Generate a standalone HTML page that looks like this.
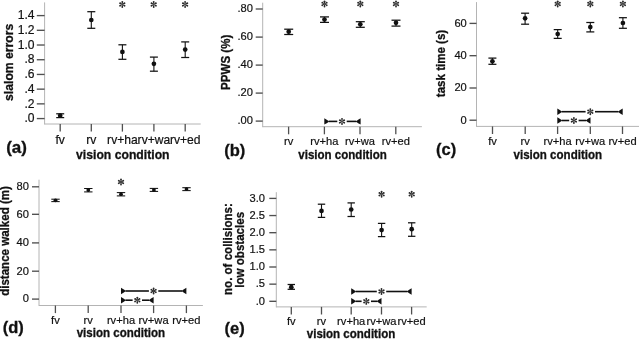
<!DOCTYPE html>
<html><head><meta charset="utf-8"><title>figure</title>
<style>
html,body{margin:0;padding:0;background:#fff;}
body{width:639px;height:339px;overflow:hidden;}
svg{display:block;font-family:"Liberation Sans",sans-serif;filter:grayscale(1);}
</style></head>
<body>
<svg width="639" height="339" viewBox="0 0 639 339">
<rect width="639" height="339" fill="#fff"/>
<line x1="44.60" y1="2.40" x2="44.60" y2="124.50" stroke="#b4b4b4" stroke-width="1.0"/>
<line x1="44.60" y1="124.00" x2="200.70" y2="124.00" stroke="#b4b4b4" stroke-width="1.0"/>
<line x1="36.80" y1="15.60" x2="44.60" y2="15.60" stroke="#505050" stroke-width="1.35"/>
<text transform="translate(34.60 19.23)" font-size="12.10" text-anchor="end" font-weight="normal" fill="#111" stroke="#111" stroke-width="0.2">1.4</text>
<line x1="36.80" y1="30.31" x2="44.60" y2="30.31" stroke="#505050" stroke-width="1.35"/>
<text transform="translate(34.60 33.95)" font-size="12.10" text-anchor="end" font-weight="normal" fill="#111" stroke="#111" stroke-width="0.2">1.2</text>
<line x1="36.80" y1="45.02" x2="44.60" y2="45.02" stroke="#505050" stroke-width="1.35"/>
<text transform="translate(34.60 48.66)" font-size="12.10" text-anchor="end" font-weight="normal" fill="#111" stroke="#111" stroke-width="0.2">1.0</text>
<line x1="36.80" y1="59.73" x2="44.60" y2="59.73" stroke="#505050" stroke-width="1.35"/>
<text transform="translate(34.60 63.37)" font-size="12.10" text-anchor="end" font-weight="normal" fill="#111" stroke="#111" stroke-width="0.2">.8</text>
<line x1="36.80" y1="74.44" x2="44.60" y2="74.44" stroke="#505050" stroke-width="1.35"/>
<text transform="translate(34.60 78.08)" font-size="12.10" text-anchor="end" font-weight="normal" fill="#111" stroke="#111" stroke-width="0.2">.6</text>
<line x1="36.80" y1="89.15" x2="44.60" y2="89.15" stroke="#505050" stroke-width="1.35"/>
<text transform="translate(34.60 92.79)" font-size="12.10" text-anchor="end" font-weight="normal" fill="#111" stroke="#111" stroke-width="0.2">.4</text>
<line x1="36.80" y1="103.86" x2="44.60" y2="103.86" stroke="#505050" stroke-width="1.35"/>
<text transform="translate(34.60 107.50)" font-size="12.10" text-anchor="end" font-weight="normal" fill="#111" stroke="#111" stroke-width="0.2">.2</text>
<line x1="36.80" y1="118.57" x2="44.60" y2="118.57" stroke="#505050" stroke-width="1.35"/>
<text transform="translate(34.60 122.20)" font-size="12.10" text-anchor="end" font-weight="normal" fill="#111" stroke="#111" stroke-width="0.2">.0</text>
<line x1="60.20" y1="124.00" x2="60.20" y2="131.60" stroke="#505050" stroke-width="1.3"/>
<text transform="translate(60.20 143.80)" font-size="12.10" text-anchor="middle" font-weight="normal" fill="#111" stroke="#111" stroke-width="0.2">fv</text>
<line x1="91.30" y1="124.00" x2="91.30" y2="131.60" stroke="#505050" stroke-width="1.3"/>
<text transform="translate(91.30 143.80)" font-size="12.10" text-anchor="middle" font-weight="normal" fill="#111" stroke="#111" stroke-width="0.2">rv</text>
<line x1="122.40" y1="124.00" x2="122.40" y2="131.60" stroke="#505050" stroke-width="1.3"/>
<text transform="translate(122.40 143.80)" font-size="12.10" text-anchor="middle" font-weight="normal" fill="#111" stroke="#111" stroke-width="0.2">rv+ha</text>
<line x1="153.90" y1="124.00" x2="153.90" y2="131.60" stroke="#505050" stroke-width="1.3"/>
<text transform="translate(153.90 143.80)" font-size="12.10" text-anchor="middle" font-weight="normal" fill="#111" stroke="#111" stroke-width="0.2">rv+wa</text>
<line x1="185.20" y1="124.00" x2="185.20" y2="131.60" stroke="#505050" stroke-width="1.3"/>
<text transform="translate(185.20 143.80)" font-size="12.10" text-anchor="middle" font-weight="normal" fill="#111" stroke="#111" stroke-width="0.2">rv+ed</text>
<text transform="translate(122.80 158.90) scale(0.9346 1)" font-size="13.05" text-anchor="middle" font-weight="bold" fill="#111" stroke="#111" stroke-width="0.3">vision condition</text>
<text transform="translate(12.60 62.30) rotate(-90) scale(0.9346 1)" font-size="13.05" text-anchor="middle" font-weight="bold" fill="#111" stroke="#111" stroke-width="0.3">slalom errors</text>
<text transform="translate(6.20 152.70)" font-size="17.00" text-anchor="start" font-weight="bold" fill="#111" stroke="#111" stroke-width="0.3">(a)</text>
<line x1="60.20" y1="113.80" x2="60.20" y2="117.60" stroke="#111" stroke-width="1.1"/>
<line x1="56.20" y1="113.80" x2="64.20" y2="113.80" stroke="#111" stroke-width="1.25"/>
<line x1="56.20" y1="117.60" x2="64.20" y2="117.60" stroke="#111" stroke-width="1.25"/>
<circle cx="60.20" cy="115.70" r="2.35" fill="#111"/>
<line x1="91.30" y1="11.70" x2="91.30" y2="28.30" stroke="#111" stroke-width="1.1"/>
<line x1="87.30" y1="11.70" x2="95.30" y2="11.70" stroke="#111" stroke-width="1.25"/>
<line x1="87.30" y1="28.30" x2="95.30" y2="28.30" stroke="#111" stroke-width="1.25"/>
<circle cx="91.30" cy="20.00" r="2.35" fill="#111"/>
<line x1="122.40" y1="44.80" x2="122.40" y2="59.30" stroke="#111" stroke-width="1.1"/>
<line x1="118.40" y1="44.80" x2="126.40" y2="44.80" stroke="#111" stroke-width="1.25"/>
<line x1="118.40" y1="59.30" x2="126.40" y2="59.30" stroke="#111" stroke-width="1.25"/>
<circle cx="122.40" cy="51.90" r="2.35" fill="#111"/>
<line x1="153.90" y1="57.10" x2="153.90" y2="71.20" stroke="#111" stroke-width="1.1"/>
<line x1="149.90" y1="57.10" x2="157.90" y2="57.10" stroke="#111" stroke-width="1.25"/>
<line x1="149.90" y1="71.20" x2="157.90" y2="71.20" stroke="#111" stroke-width="1.25"/>
<circle cx="153.90" cy="63.80" r="2.35" fill="#111"/>
<line x1="185.20" y1="41.90" x2="185.20" y2="57.50" stroke="#111" stroke-width="1.1"/>
<line x1="181.20" y1="41.90" x2="189.20" y2="41.90" stroke="#111" stroke-width="1.25"/>
<line x1="181.20" y1="57.50" x2="189.20" y2="57.50" stroke="#111" stroke-width="1.25"/>
<circle cx="185.20" cy="49.60" r="2.35" fill="#111"/>
<path d="M122.10 4.45 L121.40 1.85 A0.9 0.9 0 0 1 123.20 1.85 L122.50 4.45 Z" fill="#2a2a2a"/>
<path d="M122.20 4.28 L124.10 2.37 A0.9 0.9 0 0 1 125.00 3.93 L122.40 4.62 Z" fill="#2a2a2a"/>
<path d="M122.40 4.28 L125.00 4.97 A0.9 0.9 0 0 1 124.10 6.53 L122.20 4.62 Z" fill="#2a2a2a"/>
<path d="M122.20 4.62 L119.60 3.93 A0.9 0.9 0 0 1 120.50 2.37 L122.40 4.28 Z" fill="#2a2a2a"/>
<path d="M122.40 4.62 L120.50 6.53 A0.9 0.9 0 0 1 119.60 4.97 L122.20 4.28 Z" fill="#2a2a2a"/>
<path d="M122.50 4.45 L123.20 7.05 A0.9 0.9 0 0 1 121.40 7.05 L122.10 4.45 Z" fill="#2a2a2a"/>
<path d="M153.50 4.45 L152.80 1.85 A0.9 0.9 0 0 1 154.60 1.85 L153.90 4.45 Z" fill="#2a2a2a"/>
<path d="M153.60 4.28 L155.50 2.37 A0.9 0.9 0 0 1 156.40 3.93 L153.80 4.62 Z" fill="#2a2a2a"/>
<path d="M153.80 4.28 L156.40 4.97 A0.9 0.9 0 0 1 155.50 6.53 L153.60 4.62 Z" fill="#2a2a2a"/>
<path d="M153.60 4.62 L151.00 3.93 A0.9 0.9 0 0 1 151.90 2.37 L153.80 4.28 Z" fill="#2a2a2a"/>
<path d="M153.80 4.62 L151.90 6.53 A0.9 0.9 0 0 1 151.00 4.97 L153.60 4.28 Z" fill="#2a2a2a"/>
<path d="M153.90 4.45 L154.60 7.05 A0.9 0.9 0 0 1 152.80 7.05 L153.50 4.45 Z" fill="#2a2a2a"/>
<path d="M184.90 4.45 L184.20 1.85 A0.9 0.9 0 0 1 186.00 1.85 L185.30 4.45 Z" fill="#2a2a2a"/>
<path d="M185.00 4.28 L186.90 2.37 A0.9 0.9 0 0 1 187.80 3.93 L185.20 4.62 Z" fill="#2a2a2a"/>
<path d="M185.20 4.28 L187.80 4.97 A0.9 0.9 0 0 1 186.90 6.53 L185.00 4.62 Z" fill="#2a2a2a"/>
<path d="M185.00 4.62 L182.40 3.93 A0.9 0.9 0 0 1 183.30 2.37 L185.20 4.28 Z" fill="#2a2a2a"/>
<path d="M185.20 4.62 L183.30 6.53 A0.9 0.9 0 0 1 182.40 4.97 L185.00 4.28 Z" fill="#2a2a2a"/>
<path d="M185.30 4.45 L186.00 7.05 A0.9 0.9 0 0 1 184.20 7.05 L184.90 4.45 Z" fill="#2a2a2a"/>
<line x1="262.70" y1="2.70" x2="262.70" y2="127.20" stroke="#b4b4b4" stroke-width="1.0"/>
<line x1="262.70" y1="126.70" x2="421.90" y2="126.70" stroke="#b4b4b4" stroke-width="1.0"/>
<line x1="255.70" y1="9.00" x2="262.70" y2="9.00" stroke="#505050" stroke-width="1.35"/>
<text transform="translate(253.00 12.30) scale(0.9699 1)" font-size="11.50" text-anchor="end" font-weight="normal" fill="#111" stroke="#111" stroke-width="0.2">.80</text>
<line x1="255.70" y1="37.10" x2="262.70" y2="37.10" stroke="#505050" stroke-width="1.35"/>
<text transform="translate(253.00 40.40) scale(0.9699 1)" font-size="11.50" text-anchor="end" font-weight="normal" fill="#111" stroke="#111" stroke-width="0.2">.60</text>
<line x1="255.70" y1="65.10" x2="262.70" y2="65.10" stroke="#505050" stroke-width="1.35"/>
<text transform="translate(253.00 68.40) scale(0.9699 1)" font-size="11.50" text-anchor="end" font-weight="normal" fill="#111" stroke="#111" stroke-width="0.2">.40</text>
<line x1="255.70" y1="93.10" x2="262.70" y2="93.10" stroke="#505050" stroke-width="1.35"/>
<text transform="translate(253.00 96.40) scale(0.9699 1)" font-size="11.50" text-anchor="end" font-weight="normal" fill="#111" stroke="#111" stroke-width="0.2">.20</text>
<line x1="255.70" y1="121.10" x2="262.70" y2="121.10" stroke="#505050" stroke-width="1.35"/>
<text transform="translate(253.00 124.40) scale(0.9699 1)" font-size="11.50" text-anchor="end" font-weight="normal" fill="#111" stroke="#111" stroke-width="0.2">.00</text>
<line x1="288.60" y1="126.70" x2="288.60" y2="134.30" stroke="#505050" stroke-width="1.3"/>
<text transform="translate(288.60 145.30) scale(0.9699 1)" font-size="11.50" text-anchor="middle" font-weight="normal" fill="#111" stroke="#111" stroke-width="0.2">rv</text>
<line x1="324.40" y1="126.70" x2="324.40" y2="134.30" stroke="#505050" stroke-width="1.3"/>
<text transform="translate(324.40 145.30) scale(0.9699 1)" font-size="11.50" text-anchor="middle" font-weight="normal" fill="#111" stroke="#111" stroke-width="0.2">rv+ha</text>
<line x1="360.00" y1="126.70" x2="360.00" y2="134.30" stroke="#505050" stroke-width="1.3"/>
<text transform="translate(360.00 145.30) scale(0.9699 1)" font-size="11.50" text-anchor="middle" font-weight="normal" fill="#111" stroke="#111" stroke-width="0.2">rv+wa</text>
<line x1="395.80" y1="126.70" x2="395.80" y2="134.30" stroke="#505050" stroke-width="1.3"/>
<text transform="translate(395.80 145.30) scale(0.9699 1)" font-size="11.50" text-anchor="middle" font-weight="normal" fill="#111" stroke="#111" stroke-width="0.2">rv+ed</text>
<text transform="translate(342.50 158.60) scale(0.9346 1)" font-size="12.36" text-anchor="middle" font-weight="bold" fill="#111" stroke="#111" stroke-width="0.3">vision condition</text>
<text transform="translate(229.70 62.30) rotate(-90) scale(0.9346 1)" font-size="12.36" text-anchor="middle" font-weight="bold" fill="#111" stroke="#111" stroke-width="0.3">PPWS (%)</text>
<text transform="translate(224.20 155.50)" font-size="16.50" text-anchor="start" font-weight="bold" fill="#111" stroke="#111" stroke-width="0.3">(b)</text>
<line x1="288.70" y1="29.20" x2="288.70" y2="34.50" stroke="#111" stroke-width="1.1"/>
<line x1="284.20" y1="29.20" x2="293.20" y2="29.20" stroke="#111" stroke-width="1.25"/>
<line x1="284.20" y1="34.50" x2="293.20" y2="34.50" stroke="#111" stroke-width="1.25"/>
<circle cx="288.70" cy="31.70" r="2.35" fill="#111"/>
<line x1="324.50" y1="16.90" x2="324.50" y2="22.40" stroke="#111" stroke-width="1.1"/>
<line x1="320.00" y1="16.90" x2="329.00" y2="16.90" stroke="#111" stroke-width="1.25"/>
<line x1="320.00" y1="22.40" x2="329.00" y2="22.40" stroke="#111" stroke-width="1.25"/>
<circle cx="324.50" cy="19.60" r="2.35" fill="#111"/>
<line x1="360.30" y1="21.70" x2="360.30" y2="27.30" stroke="#111" stroke-width="1.1"/>
<line x1="355.80" y1="21.70" x2="364.80" y2="21.70" stroke="#111" stroke-width="1.25"/>
<line x1="355.80" y1="27.30" x2="364.80" y2="27.30" stroke="#111" stroke-width="1.25"/>
<circle cx="360.30" cy="24.30" r="2.35" fill="#111"/>
<line x1="396.00" y1="20.20" x2="396.00" y2="26.10" stroke="#111" stroke-width="1.1"/>
<line x1="391.50" y1="20.20" x2="400.50" y2="20.20" stroke="#111" stroke-width="1.25"/>
<line x1="391.50" y1="26.10" x2="400.50" y2="26.10" stroke="#111" stroke-width="1.25"/>
<circle cx="396.00" cy="22.80" r="2.35" fill="#111"/>
<path d="M324.30 3.90 L323.60 1.30 A0.9 0.9 0 0 1 325.40 1.30 L324.70 3.90 Z" fill="#2a2a2a"/>
<path d="M324.40 3.73 L326.30 1.82 A0.9 0.9 0 0 1 327.20 3.38 L324.60 4.07 Z" fill="#2a2a2a"/>
<path d="M324.60 3.73 L327.20 4.42 A0.9 0.9 0 0 1 326.30 5.98 L324.40 4.07 Z" fill="#2a2a2a"/>
<path d="M324.40 4.07 L321.80 3.38 A0.9 0.9 0 0 1 322.70 1.82 L324.60 3.73 Z" fill="#2a2a2a"/>
<path d="M324.60 4.07 L322.70 5.98 A0.9 0.9 0 0 1 321.80 4.42 L324.40 3.73 Z" fill="#2a2a2a"/>
<path d="M324.70 3.90 L325.40 6.50 A0.9 0.9 0 0 1 323.60 6.50 L324.30 3.90 Z" fill="#2a2a2a"/>
<path d="M360.10 3.90 L359.40 1.30 A0.9 0.9 0 0 1 361.20 1.30 L360.50 3.90 Z" fill="#2a2a2a"/>
<path d="M360.20 3.73 L362.10 1.82 A0.9 0.9 0 0 1 363.00 3.38 L360.40 4.07 Z" fill="#2a2a2a"/>
<path d="M360.40 3.73 L363.00 4.42 A0.9 0.9 0 0 1 362.10 5.98 L360.20 4.07 Z" fill="#2a2a2a"/>
<path d="M360.20 4.07 L357.60 3.38 A0.9 0.9 0 0 1 358.50 1.82 L360.40 3.73 Z" fill="#2a2a2a"/>
<path d="M360.40 4.07 L358.50 5.98 A0.9 0.9 0 0 1 357.60 4.42 L360.20 3.73 Z" fill="#2a2a2a"/>
<path d="M360.50 3.90 L361.20 6.50 A0.9 0.9 0 0 1 359.40 6.50 L360.10 3.90 Z" fill="#2a2a2a"/>
<path d="M395.80 3.90 L395.10 1.30 A0.9 0.9 0 0 1 396.90 1.30 L396.20 3.90 Z" fill="#2a2a2a"/>
<path d="M395.90 3.73 L397.80 1.82 A0.9 0.9 0 0 1 398.70 3.38 L396.10 4.07 Z" fill="#2a2a2a"/>
<path d="M396.10 3.73 L398.70 4.42 A0.9 0.9 0 0 1 397.80 5.98 L395.90 4.07 Z" fill="#2a2a2a"/>
<path d="M395.90 4.07 L393.30 3.38 A0.9 0.9 0 0 1 394.20 1.82 L396.10 3.73 Z" fill="#2a2a2a"/>
<path d="M396.10 4.07 L394.20 5.98 A0.9 0.9 0 0 1 393.30 4.42 L395.90 3.73 Z" fill="#2a2a2a"/>
<path d="M396.20 3.90 L396.90 6.50 A0.9 0.9 0 0 1 395.10 6.50 L395.80 3.90 Z" fill="#2a2a2a"/>
<line x1="328.70" y1="121.40" x2="337.30" y2="121.40" stroke="#111" stroke-width="1.6"/>
<line x1="346.70" y1="121.40" x2="356.20" y2="121.40" stroke="#111" stroke-width="1.6"/>
<path d="M324.30 118.20 Q326.75 119.48 329.20 121.40 Q326.75 123.32 324.30 124.60 Z" fill="#111"/>
<path d="M360.60 118.20 Q358.15 119.48 355.70 121.40 Q358.15 123.32 360.60 124.60 Z" fill="#111"/>
<path d="M341.80 121.40 L341.10 118.80 A0.9 0.9 0 0 1 342.90 118.80 L342.20 121.40 Z" fill="#2a2a2a"/>
<path d="M341.90 121.23 L343.80 119.32 A0.9 0.9 0 0 1 344.70 120.88 L342.10 121.57 Z" fill="#2a2a2a"/>
<path d="M342.10 121.23 L344.70 121.92 A0.9 0.9 0 0 1 343.80 123.48 L341.90 121.57 Z" fill="#2a2a2a"/>
<path d="M341.90 121.57 L339.30 120.88 A0.9 0.9 0 0 1 340.20 119.32 L342.10 121.23 Z" fill="#2a2a2a"/>
<path d="M342.10 121.57 L340.20 123.48 A0.9 0.9 0 0 1 339.30 121.92 L341.90 121.23 Z" fill="#2a2a2a"/>
<path d="M342.20 121.40 L342.90 124.00 A0.9 0.9 0 0 1 341.10 124.00 L341.80 121.40 Z" fill="#2a2a2a"/>
<line x1="476.50" y1="2.10" x2="476.50" y2="126.90" stroke="#b4b4b4" stroke-width="1.0"/>
<line x1="476.50" y1="126.40" x2="639.50" y2="126.40" stroke="#b4b4b4" stroke-width="1.0"/>
<line x1="469.50" y1="23.40" x2="476.50" y2="23.40" stroke="#505050" stroke-width="1.35"/>
<text transform="translate(466.80 26.70) scale(0.9699 1)" font-size="11.50" text-anchor="end" font-weight="normal" fill="#111" stroke="#111" stroke-width="0.2">60</text>
<line x1="469.50" y1="55.70" x2="476.50" y2="55.70" stroke="#505050" stroke-width="1.35"/>
<text transform="translate(466.80 59.00) scale(0.9699 1)" font-size="11.50" text-anchor="end" font-weight="normal" fill="#111" stroke="#111" stroke-width="0.2">40</text>
<line x1="469.50" y1="88.00" x2="476.50" y2="88.00" stroke="#505050" stroke-width="1.35"/>
<text transform="translate(466.80 91.30) scale(0.9699 1)" font-size="11.50" text-anchor="end" font-weight="normal" fill="#111" stroke="#111" stroke-width="0.2">20</text>
<line x1="469.50" y1="120.20" x2="476.50" y2="120.20" stroke="#505050" stroke-width="1.35"/>
<text transform="translate(466.80 123.50) scale(0.9699 1)" font-size="11.50" text-anchor="end" font-weight="normal" fill="#111" stroke="#111" stroke-width="0.2">0</text>
<line x1="492.50" y1="126.40" x2="492.50" y2="134.00" stroke="#505050" stroke-width="1.3"/>
<text transform="translate(492.50 145.10) scale(0.9699 1)" font-size="11.50" text-anchor="middle" font-weight="normal" fill="#111" stroke="#111" stroke-width="0.2">fv</text>
<line x1="525.20" y1="126.40" x2="525.20" y2="134.00" stroke="#505050" stroke-width="1.3"/>
<text transform="translate(525.20 145.10) scale(0.9699 1)" font-size="11.50" text-anchor="middle" font-weight="normal" fill="#111" stroke="#111" stroke-width="0.2">rv</text>
<line x1="557.60" y1="126.40" x2="557.60" y2="134.00" stroke="#505050" stroke-width="1.3"/>
<text transform="translate(557.60 145.10) scale(0.9699 1)" font-size="11.50" text-anchor="middle" font-weight="normal" fill="#111" stroke="#111" stroke-width="0.2">rv+ha</text>
<line x1="590.30" y1="126.40" x2="590.30" y2="134.00" stroke="#505050" stroke-width="1.3"/>
<text transform="translate(590.30 145.10) scale(0.9699 1)" font-size="11.50" text-anchor="middle" font-weight="normal" fill="#111" stroke="#111" stroke-width="0.2">rv+wa</text>
<line x1="622.50" y1="126.40" x2="622.50" y2="134.00" stroke="#505050" stroke-width="1.3"/>
<text transform="translate(622.50 145.10) scale(0.9699 1)" font-size="11.50" text-anchor="middle" font-weight="normal" fill="#111" stroke="#111" stroke-width="0.2">rv+ed</text>
<text transform="translate(557.80 158.90) scale(0.9346 1)" font-size="12.36" text-anchor="middle" font-weight="bold" fill="#111" stroke="#111" stroke-width="0.3">vision condition</text>
<text transform="translate(444.60 63.50) rotate(-90) scale(0.9346 1)" font-size="12.36" text-anchor="middle" font-weight="bold" fill="#111" stroke="#111" stroke-width="0.3">task time (s)</text>
<text transform="translate(436.00 155.00)" font-size="16.50" text-anchor="start" font-weight="bold" fill="#111" stroke="#111" stroke-width="0.3">(c)</text>
<line x1="492.40" y1="58.10" x2="492.40" y2="64.30" stroke="#111" stroke-width="1.1"/>
<line x1="488.40" y1="58.10" x2="496.40" y2="58.10" stroke="#111" stroke-width="1.25"/>
<line x1="488.40" y1="64.30" x2="496.40" y2="64.30" stroke="#111" stroke-width="1.25"/>
<circle cx="492.40" cy="61.30" r="2.35" fill="#111"/>
<line x1="525.10" y1="13.20" x2="525.10" y2="24.20" stroke="#111" stroke-width="1.1"/>
<line x1="521.10" y1="13.20" x2="529.10" y2="13.20" stroke="#111" stroke-width="1.25"/>
<line x1="521.10" y1="24.20" x2="529.10" y2="24.20" stroke="#111" stroke-width="1.25"/>
<circle cx="525.10" cy="18.30" r="2.35" fill="#111"/>
<line x1="557.70" y1="29.60" x2="557.70" y2="38.40" stroke="#111" stroke-width="1.1"/>
<line x1="553.70" y1="29.60" x2="561.70" y2="29.60" stroke="#111" stroke-width="1.25"/>
<line x1="553.70" y1="38.40" x2="561.70" y2="38.40" stroke="#111" stroke-width="1.25"/>
<circle cx="557.70" cy="34.00" r="2.35" fill="#111"/>
<line x1="590.30" y1="22.50" x2="590.30" y2="31.90" stroke="#111" stroke-width="1.1"/>
<line x1="586.30" y1="22.50" x2="594.30" y2="22.50" stroke="#111" stroke-width="1.25"/>
<line x1="586.30" y1="31.90" x2="594.30" y2="31.90" stroke="#111" stroke-width="1.25"/>
<circle cx="590.30" cy="27.10" r="2.35" fill="#111"/>
<line x1="622.90" y1="17.70" x2="622.90" y2="28.30" stroke="#111" stroke-width="1.1"/>
<line x1="618.90" y1="17.70" x2="626.90" y2="17.70" stroke="#111" stroke-width="1.25"/>
<line x1="618.90" y1="28.30" x2="626.90" y2="28.30" stroke="#111" stroke-width="1.25"/>
<circle cx="622.90" cy="23.00" r="2.35" fill="#111"/>
<path d="M557.50 3.90 L556.80 1.30 A0.9 0.9 0 0 1 558.60 1.30 L557.90 3.90 Z" fill="#2a2a2a"/>
<path d="M557.60 3.73 L559.50 1.82 A0.9 0.9 0 0 1 560.40 3.38 L557.80 4.07 Z" fill="#2a2a2a"/>
<path d="M557.80 3.73 L560.40 4.42 A0.9 0.9 0 0 1 559.50 5.98 L557.60 4.07 Z" fill="#2a2a2a"/>
<path d="M557.60 4.07 L555.00 3.38 A0.9 0.9 0 0 1 555.90 1.82 L557.80 3.73 Z" fill="#2a2a2a"/>
<path d="M557.80 4.07 L555.90 5.98 A0.9 0.9 0 0 1 555.00 4.42 L557.60 3.73 Z" fill="#2a2a2a"/>
<path d="M557.90 3.90 L558.60 6.50 A0.9 0.9 0 0 1 556.80 6.50 L557.50 3.90 Z" fill="#2a2a2a"/>
<path d="M590.10 3.90 L589.40 1.30 A0.9 0.9 0 0 1 591.20 1.30 L590.50 3.90 Z" fill="#2a2a2a"/>
<path d="M590.20 3.73 L592.10 1.82 A0.9 0.9 0 0 1 593.00 3.38 L590.40 4.07 Z" fill="#2a2a2a"/>
<path d="M590.40 3.73 L593.00 4.42 A0.9 0.9 0 0 1 592.10 5.98 L590.20 4.07 Z" fill="#2a2a2a"/>
<path d="M590.20 4.07 L587.60 3.38 A0.9 0.9 0 0 1 588.50 1.82 L590.40 3.73 Z" fill="#2a2a2a"/>
<path d="M590.40 4.07 L588.50 5.98 A0.9 0.9 0 0 1 587.60 4.42 L590.20 3.73 Z" fill="#2a2a2a"/>
<path d="M590.50 3.90 L591.20 6.50 A0.9 0.9 0 0 1 589.40 6.50 L590.10 3.90 Z" fill="#2a2a2a"/>
<path d="M622.70 3.90 L622.00 1.30 A0.9 0.9 0 0 1 623.80 1.30 L623.10 3.90 Z" fill="#2a2a2a"/>
<path d="M622.80 3.73 L624.70 1.82 A0.9 0.9 0 0 1 625.60 3.38 L623.00 4.07 Z" fill="#2a2a2a"/>
<path d="M623.00 3.73 L625.60 4.42 A0.9 0.9 0 0 1 624.70 5.98 L622.80 4.07 Z" fill="#2a2a2a"/>
<path d="M622.80 4.07 L620.20 3.38 A0.9 0.9 0 0 1 621.10 1.82 L623.00 3.73 Z" fill="#2a2a2a"/>
<path d="M623.00 4.07 L621.10 5.98 A0.9 0.9 0 0 1 620.20 4.42 L622.80 3.73 Z" fill="#2a2a2a"/>
<path d="M623.10 3.90 L623.80 6.50 A0.9 0.9 0 0 1 622.00 6.50 L622.70 3.90 Z" fill="#2a2a2a"/>
<line x1="561.70" y1="111.70" x2="585.60" y2="111.70" stroke="#111" stroke-width="1.6"/>
<line x1="595.00" y1="111.70" x2="618.30" y2="111.70" stroke="#111" stroke-width="1.6"/>
<path d="M557.30 108.50 Q559.75 109.78 562.20 111.70 Q559.75 113.62 557.30 114.90 Z" fill="#111"/>
<path d="M622.70 108.50 Q620.25 109.78 617.80 111.70 Q620.25 113.62 622.70 114.90 Z" fill="#111"/>
<path d="M590.10 111.70 L589.40 109.10 A0.9 0.9 0 0 1 591.20 109.10 L590.50 111.70 Z" fill="#2a2a2a"/>
<path d="M590.20 111.53 L592.10 109.62 A0.9 0.9 0 0 1 593.00 111.18 L590.40 111.87 Z" fill="#2a2a2a"/>
<path d="M590.40 111.53 L593.00 112.22 A0.9 0.9 0 0 1 592.10 113.78 L590.20 111.87 Z" fill="#2a2a2a"/>
<path d="M590.20 111.87 L587.60 111.18 A0.9 0.9 0 0 1 588.50 109.62 L590.40 111.53 Z" fill="#2a2a2a"/>
<path d="M590.40 111.87 L588.50 113.78 A0.9 0.9 0 0 1 587.60 112.22 L590.20 111.53 Z" fill="#2a2a2a"/>
<path d="M590.50 111.70 L591.20 114.30 A0.9 0.9 0 0 1 589.40 114.30 L590.10 111.70 Z" fill="#2a2a2a"/>
<line x1="561.70" y1="120.50" x2="569.20" y2="120.50" stroke="#111" stroke-width="1.6"/>
<line x1="578.60" y1="120.50" x2="586.10" y2="120.50" stroke="#111" stroke-width="1.6"/>
<path d="M557.30 117.30 Q559.75 118.58 562.20 120.50 Q559.75 122.42 557.30 123.70 Z" fill="#111"/>
<path d="M590.50 117.30 Q588.05 118.58 585.60 120.50 Q588.05 122.42 590.50 123.70 Z" fill="#111"/>
<path d="M573.70 120.50 L573.00 117.90 A0.9 0.9 0 0 1 574.80 117.90 L574.10 120.50 Z" fill="#2a2a2a"/>
<path d="M573.80 120.33 L575.70 118.42 A0.9 0.9 0 0 1 576.60 119.98 L574.00 120.67 Z" fill="#2a2a2a"/>
<path d="M574.00 120.33 L576.60 121.02 A0.9 0.9 0 0 1 575.70 122.58 L573.80 120.67 Z" fill="#2a2a2a"/>
<path d="M573.80 120.67 L571.20 119.98 A0.9 0.9 0 0 1 572.10 118.42 L574.00 120.33 Z" fill="#2a2a2a"/>
<path d="M574.00 120.67 L572.10 122.58 A0.9 0.9 0 0 1 571.20 121.02 L573.80 120.33 Z" fill="#2a2a2a"/>
<path d="M574.10 120.50 L574.80 123.10 A0.9 0.9 0 0 1 573.00 123.10 L573.70 120.50 Z" fill="#2a2a2a"/>
<line x1="39.00" y1="179.70" x2="39.00" y2="306.00" stroke="#b4b4b4" stroke-width="1.0"/>
<line x1="39.00" y1="305.50" x2="202.90" y2="305.50" stroke="#b4b4b4" stroke-width="1.0"/>
<line x1="32.00" y1="186.80" x2="39.00" y2="186.80" stroke="#505050" stroke-width="1.35"/>
<text transform="translate(29.00 190.10) scale(0.9699 1)" font-size="11.50" text-anchor="end" font-weight="normal" fill="#111" stroke="#111" stroke-width="0.2">80</text>
<line x1="32.00" y1="214.30" x2="39.00" y2="214.30" stroke="#505050" stroke-width="1.35"/>
<text transform="translate(29.00 217.60) scale(0.9699 1)" font-size="11.50" text-anchor="end" font-weight="normal" fill="#111" stroke="#111" stroke-width="0.2">60</text>
<line x1="32.00" y1="242.90" x2="39.00" y2="242.90" stroke="#505050" stroke-width="1.35"/>
<text transform="translate(29.00 246.20) scale(0.9699 1)" font-size="11.50" text-anchor="end" font-weight="normal" fill="#111" stroke="#111" stroke-width="0.2">40</text>
<line x1="32.00" y1="271.20" x2="39.00" y2="271.20" stroke="#505050" stroke-width="1.35"/>
<text transform="translate(29.00 274.50) scale(0.9699 1)" font-size="11.50" text-anchor="end" font-weight="normal" fill="#111" stroke="#111" stroke-width="0.2">20</text>
<line x1="32.00" y1="299.10" x2="39.00" y2="299.10" stroke="#505050" stroke-width="1.35"/>
<text transform="translate(29.00 302.40) scale(0.9699 1)" font-size="11.50" text-anchor="end" font-weight="normal" fill="#111" stroke="#111" stroke-width="0.2">0</text>
<line x1="55.40" y1="305.50" x2="55.40" y2="313.10" stroke="#505050" stroke-width="1.3"/>
<text transform="translate(55.40 323.70) scale(0.9699 1)" font-size="11.50" text-anchor="middle" font-weight="normal" fill="#111" stroke="#111" stroke-width="0.2">fv</text>
<line x1="88.20" y1="305.50" x2="88.20" y2="313.10" stroke="#505050" stroke-width="1.3"/>
<text transform="translate(88.20 323.70) scale(0.9699 1)" font-size="11.50" text-anchor="middle" font-weight="normal" fill="#111" stroke="#111" stroke-width="0.2">rv</text>
<line x1="121.00" y1="305.50" x2="121.00" y2="313.10" stroke="#505050" stroke-width="1.3"/>
<text transform="translate(121.00 323.70) scale(0.9699 1)" font-size="11.50" text-anchor="middle" font-weight="normal" fill="#111" stroke="#111" stroke-width="0.2">rv+ha</text>
<line x1="153.60" y1="305.50" x2="153.60" y2="313.10" stroke="#505050" stroke-width="1.3"/>
<text transform="translate(153.60 323.70) scale(0.9699 1)" font-size="11.50" text-anchor="middle" font-weight="normal" fill="#111" stroke="#111" stroke-width="0.2">rv+wa</text>
<line x1="186.40" y1="305.50" x2="186.40" y2="313.10" stroke="#505050" stroke-width="1.3"/>
<text transform="translate(186.40 323.70) scale(0.9699 1)" font-size="11.50" text-anchor="middle" font-weight="normal" fill="#111" stroke="#111" stroke-width="0.2">rv+ed</text>
<text transform="translate(120.90 337.30) scale(0.9346 1)" font-size="12.36" text-anchor="middle" font-weight="bold" fill="#111" stroke="#111" stroke-width="0.3">vision condition</text>
<text transform="translate(8.90 241.00) rotate(-90) scale(0.9346 1)" font-size="12.36" text-anchor="middle" font-weight="bold" fill="#111" stroke="#111" stroke-width="0.3">distance walked (m)</text>
<text transform="translate(2.80 333.20)" font-size="16.50" text-anchor="start" font-weight="bold" fill="#111" stroke="#111" stroke-width="0.3">(d)</text>
<line x1="55.50" y1="199.20" x2="55.50" y2="201.60" stroke="#111" stroke-width="1.1"/>
<line x1="51.30" y1="199.20" x2="59.70" y2="199.20" stroke="#111" stroke-width="1.05"/>
<line x1="51.30" y1="201.60" x2="59.70" y2="201.60" stroke="#111" stroke-width="1.05"/>
<circle cx="55.50" cy="200.30" r="1.9" fill="#111"/>
<line x1="88.30" y1="188.50" x2="88.30" y2="191.90" stroke="#111" stroke-width="1.1"/>
<line x1="84.10" y1="188.50" x2="92.50" y2="188.50" stroke="#111" stroke-width="1.05"/>
<line x1="84.10" y1="191.90" x2="92.50" y2="191.90" stroke="#111" stroke-width="1.05"/>
<circle cx="88.30" cy="190.10" r="1.9" fill="#111"/>
<line x1="121.00" y1="192.60" x2="121.00" y2="195.90" stroke="#111" stroke-width="1.1"/>
<line x1="116.80" y1="192.60" x2="125.20" y2="192.60" stroke="#111" stroke-width="1.05"/>
<line x1="116.80" y1="195.90" x2="125.20" y2="195.90" stroke="#111" stroke-width="1.05"/>
<circle cx="121.00" cy="194.20" r="1.9" fill="#111"/>
<line x1="153.90" y1="188.40" x2="153.90" y2="191.40" stroke="#111" stroke-width="1.1"/>
<line x1="149.70" y1="188.40" x2="158.10" y2="188.40" stroke="#111" stroke-width="1.05"/>
<line x1="149.70" y1="191.40" x2="158.10" y2="191.40" stroke="#111" stroke-width="1.05"/>
<circle cx="153.90" cy="189.90" r="1.9" fill="#111"/>
<line x1="186.50" y1="187.70" x2="186.50" y2="190.60" stroke="#111" stroke-width="1.1"/>
<line x1="182.30" y1="187.70" x2="190.70" y2="187.70" stroke="#111" stroke-width="1.05"/>
<line x1="182.30" y1="190.60" x2="190.70" y2="190.60" stroke="#111" stroke-width="1.05"/>
<circle cx="186.50" cy="189.10" r="1.9" fill="#111"/>
<path d="M120.80 182.00 L120.10 179.40 A0.9 0.9 0 0 1 121.90 179.40 L121.20 182.00 Z" fill="#2a2a2a"/>
<path d="M120.90 181.83 L122.80 179.92 A0.9 0.9 0 0 1 123.70 181.48 L121.10 182.17 Z" fill="#2a2a2a"/>
<path d="M121.10 181.83 L123.70 182.52 A0.9 0.9 0 0 1 122.80 184.08 L120.90 182.17 Z" fill="#2a2a2a"/>
<path d="M120.90 182.17 L118.30 181.48 A0.9 0.9 0 0 1 119.20 179.92 L121.10 181.83 Z" fill="#2a2a2a"/>
<path d="M121.10 182.17 L119.20 184.08 A0.9 0.9 0 0 1 118.30 182.52 L120.90 181.83 Z" fill="#2a2a2a"/>
<path d="M121.20 182.00 L121.90 184.60 A0.9 0.9 0 0 1 120.10 184.60 L120.80 182.00 Z" fill="#2a2a2a"/>
<line x1="125.40" y1="291.00" x2="148.90" y2="291.00" stroke="#111" stroke-width="1.6"/>
<line x1="158.30" y1="291.00" x2="182.00" y2="291.00" stroke="#111" stroke-width="1.6"/>
<path d="M121.00 287.80 Q123.45 289.08 125.90 291.00 Q123.45 292.92 121.00 294.20 Z" fill="#111"/>
<path d="M186.40 287.80 Q183.95 289.08 181.50 291.00 Q183.95 292.92 186.40 294.20 Z" fill="#111"/>
<path d="M153.40 291.00 L152.70 288.40 A0.9 0.9 0 0 1 154.50 288.40 L153.80 291.00 Z" fill="#2a2a2a"/>
<path d="M153.50 290.83 L155.40 288.92 A0.9 0.9 0 0 1 156.30 290.48 L153.70 291.17 Z" fill="#2a2a2a"/>
<path d="M153.70 290.83 L156.30 291.52 A0.9 0.9 0 0 1 155.40 293.08 L153.50 291.17 Z" fill="#2a2a2a"/>
<path d="M153.50 291.17 L150.90 290.48 A0.9 0.9 0 0 1 151.80 288.92 L153.70 290.83 Z" fill="#2a2a2a"/>
<path d="M153.70 291.17 L151.80 293.08 A0.9 0.9 0 0 1 150.90 291.52 L153.50 290.83 Z" fill="#2a2a2a"/>
<path d="M153.80 291.00 L154.50 293.60 A0.9 0.9 0 0 1 152.70 293.60 L153.40 291.00 Z" fill="#2a2a2a"/>
<line x1="125.40" y1="300.20" x2="132.60" y2="300.20" stroke="#111" stroke-width="1.6"/>
<line x1="142.00" y1="300.20" x2="149.20" y2="300.20" stroke="#111" stroke-width="1.6"/>
<path d="M121.00 297.00 Q123.45 298.28 125.90 300.20 Q123.45 302.12 121.00 303.40 Z" fill="#111"/>
<path d="M153.60 297.00 Q151.15 298.28 148.70 300.20 Q151.15 302.12 153.60 303.40 Z" fill="#111"/>
<path d="M137.10 300.20 L136.40 297.60 A0.9 0.9 0 0 1 138.20 297.60 L137.50 300.20 Z" fill="#2a2a2a"/>
<path d="M137.20 300.03 L139.10 298.12 A0.9 0.9 0 0 1 140.00 299.68 L137.40 300.37 Z" fill="#2a2a2a"/>
<path d="M137.40 300.03 L140.00 300.72 A0.9 0.9 0 0 1 139.10 302.28 L137.20 300.37 Z" fill="#2a2a2a"/>
<path d="M137.20 300.37 L134.60 299.68 A0.9 0.9 0 0 1 135.50 298.12 L137.40 300.03 Z" fill="#2a2a2a"/>
<path d="M137.40 300.37 L135.50 302.28 A0.9 0.9 0 0 1 134.60 300.72 L137.20 300.03 Z" fill="#2a2a2a"/>
<path d="M137.50 300.20 L138.20 302.80 A0.9 0.9 0 0 1 136.40 302.80 L137.10 300.20 Z" fill="#2a2a2a"/>
<line x1="276.30" y1="192.20" x2="276.30" y2="307.40" stroke="#b4b4b4" stroke-width="1.0"/>
<line x1="276.30" y1="306.90" x2="426.70" y2="306.90" stroke="#b4b4b4" stroke-width="1.0"/>
<line x1="269.30" y1="198.40" x2="276.30" y2="198.40" stroke="#505050" stroke-width="1.35"/>
<text transform="translate(265.00 201.70) scale(0.9699 1)" font-size="11.50" text-anchor="end" font-weight="normal" fill="#111" stroke="#111" stroke-width="0.2">3.0</text>
<line x1="269.30" y1="215.55" x2="276.30" y2="215.55" stroke="#505050" stroke-width="1.35"/>
<text transform="translate(265.00 218.85) scale(0.9699 1)" font-size="11.50" text-anchor="end" font-weight="normal" fill="#111" stroke="#111" stroke-width="0.2">2.5</text>
<line x1="269.30" y1="232.70" x2="276.30" y2="232.70" stroke="#505050" stroke-width="1.35"/>
<text transform="translate(265.00 236.00) scale(0.9699 1)" font-size="11.50" text-anchor="end" font-weight="normal" fill="#111" stroke="#111" stroke-width="0.2">2.0</text>
<line x1="269.30" y1="249.85" x2="276.30" y2="249.85" stroke="#505050" stroke-width="1.35"/>
<text transform="translate(265.00 253.15) scale(0.9699 1)" font-size="11.50" text-anchor="end" font-weight="normal" fill="#111" stroke="#111" stroke-width="0.2">1.5</text>
<line x1="269.30" y1="267.00" x2="276.30" y2="267.00" stroke="#505050" stroke-width="1.35"/>
<text transform="translate(265.00 270.30) scale(0.9699 1)" font-size="11.50" text-anchor="end" font-weight="normal" fill="#111" stroke="#111" stroke-width="0.2">1.0</text>
<line x1="269.30" y1="284.15" x2="276.30" y2="284.15" stroke="#505050" stroke-width="1.35"/>
<text transform="translate(265.00 287.45) scale(0.9699 1)" font-size="11.50" text-anchor="end" font-weight="normal" fill="#111" stroke="#111" stroke-width="0.2">.5</text>
<line x1="269.30" y1="301.30" x2="276.30" y2="301.30" stroke="#505050" stroke-width="1.35"/>
<text transform="translate(265.00 304.60) scale(0.9699 1)" font-size="11.50" text-anchor="end" font-weight="normal" fill="#111" stroke="#111" stroke-width="0.2">.0</text>
<line x1="291.30" y1="306.90" x2="291.30" y2="314.50" stroke="#505050" stroke-width="1.3"/>
<text transform="translate(291.30 325.10) scale(0.9699 1)" font-size="11.50" text-anchor="middle" font-weight="normal" fill="#111" stroke="#111" stroke-width="0.2">fv</text>
<line x1="321.50" y1="306.90" x2="321.50" y2="314.50" stroke="#505050" stroke-width="1.3"/>
<text transform="translate(321.50 325.10) scale(0.9699 1)" font-size="11.50" text-anchor="middle" font-weight="normal" fill="#111" stroke="#111" stroke-width="0.2">rv</text>
<line x1="351.20" y1="306.90" x2="351.20" y2="314.50" stroke="#505050" stroke-width="1.3"/>
<text transform="translate(351.20 325.10) scale(0.9699 1)" font-size="11.50" text-anchor="middle" font-weight="normal" fill="#111" stroke="#111" stroke-width="0.2">rv+ha</text>
<line x1="381.50" y1="306.90" x2="381.50" y2="314.50" stroke="#505050" stroke-width="1.3"/>
<text transform="translate(381.50 325.10) scale(0.9699 1)" font-size="11.50" text-anchor="middle" font-weight="normal" fill="#111" stroke="#111" stroke-width="0.2">rv+wa</text>
<line x1="411.60" y1="306.90" x2="411.60" y2="314.50" stroke="#505050" stroke-width="1.3"/>
<text transform="translate(411.60 325.10) scale(0.9699 1)" font-size="11.50" text-anchor="middle" font-weight="normal" fill="#111" stroke="#111" stroke-width="0.2">rv+ed</text>
<text transform="translate(351.00 338.20) scale(0.9346 1)" font-size="12.36" text-anchor="middle" font-weight="bold" fill="#111" stroke="#111" stroke-width="0.3">vision condition</text>
<text transform="translate(231.90 249.10) rotate(-90) scale(0.9346 1)" font-size="12.36" text-anchor="middle" font-weight="bold" fill="#111" stroke="#111" stroke-width="0.3">no. of collisions:</text>
<text transform="translate(243.90 249.80) rotate(-90) scale(0.9346 1)" font-size="12.36" text-anchor="middle" font-weight="bold" fill="#111" stroke="#111" stroke-width="0.3">low obstacles</text>
<text transform="translate(224.50 334.00)" font-size="16.50" text-anchor="start" font-weight="bold" fill="#111" stroke="#111" stroke-width="0.3">(e)</text>
<line x1="291.30" y1="284.50" x2="291.30" y2="289.30" stroke="#111" stroke-width="1.1"/>
<line x1="287.60" y1="284.50" x2="295.00" y2="284.50" stroke="#111" stroke-width="1.25"/>
<line x1="287.60" y1="289.30" x2="295.00" y2="289.30" stroke="#111" stroke-width="1.25"/>
<circle cx="291.30" cy="287.20" r="2.35" fill="#111"/>
<line x1="321.50" y1="204.20" x2="321.50" y2="217.40" stroke="#111" stroke-width="1.1"/>
<line x1="317.80" y1="204.20" x2="325.20" y2="204.20" stroke="#111" stroke-width="1.25"/>
<line x1="317.80" y1="217.40" x2="325.20" y2="217.40" stroke="#111" stroke-width="1.25"/>
<circle cx="321.50" cy="210.90" r="2.35" fill="#111"/>
<line x1="351.20" y1="202.90" x2="351.20" y2="216.50" stroke="#111" stroke-width="1.1"/>
<line x1="347.50" y1="202.90" x2="354.90" y2="202.90" stroke="#111" stroke-width="1.25"/>
<line x1="347.50" y1="216.50" x2="354.90" y2="216.50" stroke="#111" stroke-width="1.25"/>
<circle cx="351.20" cy="209.50" r="2.35" fill="#111"/>
<line x1="381.60" y1="223.40" x2="381.60" y2="236.60" stroke="#111" stroke-width="1.1"/>
<line x1="377.90" y1="223.40" x2="385.30" y2="223.40" stroke="#111" stroke-width="1.25"/>
<line x1="377.90" y1="236.60" x2="385.30" y2="236.60" stroke="#111" stroke-width="1.25"/>
<circle cx="381.60" cy="230.10" r="2.35" fill="#111"/>
<line x1="411.70" y1="222.80" x2="411.70" y2="236.30" stroke="#111" stroke-width="1.1"/>
<line x1="408.00" y1="222.80" x2="415.40" y2="222.80" stroke="#111" stroke-width="1.25"/>
<line x1="408.00" y1="236.30" x2="415.40" y2="236.30" stroke="#111" stroke-width="1.25"/>
<circle cx="411.70" cy="229.20" r="2.35" fill="#111"/>
<path d="M381.40 194.20 L380.70 191.60 A0.9 0.9 0 0 1 382.50 191.60 L381.80 194.20 Z" fill="#2a2a2a"/>
<path d="M381.50 194.03 L383.40 192.12 A0.9 0.9 0 0 1 384.30 193.68 L381.70 194.37 Z" fill="#2a2a2a"/>
<path d="M381.70 194.03 L384.30 194.72 A0.9 0.9 0 0 1 383.40 196.28 L381.50 194.37 Z" fill="#2a2a2a"/>
<path d="M381.50 194.37 L378.90 193.68 A0.9 0.9 0 0 1 379.80 192.12 L381.70 194.03 Z" fill="#2a2a2a"/>
<path d="M381.70 194.37 L379.80 196.28 A0.9 0.9 0 0 1 378.90 194.72 L381.50 194.03 Z" fill="#2a2a2a"/>
<path d="M381.80 194.20 L382.50 196.80 A0.9 0.9 0 0 1 380.70 196.80 L381.40 194.20 Z" fill="#2a2a2a"/>
<path d="M411.50 194.20 L410.80 191.60 A0.9 0.9 0 0 1 412.60 191.60 L411.90 194.20 Z" fill="#2a2a2a"/>
<path d="M411.60 194.03 L413.50 192.12 A0.9 0.9 0 0 1 414.40 193.68 L411.80 194.37 Z" fill="#2a2a2a"/>
<path d="M411.80 194.03 L414.40 194.72 A0.9 0.9 0 0 1 413.50 196.28 L411.60 194.37 Z" fill="#2a2a2a"/>
<path d="M411.60 194.37 L409.00 193.68 A0.9 0.9 0 0 1 409.90 192.12 L411.80 194.03 Z" fill="#2a2a2a"/>
<path d="M411.80 194.37 L409.90 196.28 A0.9 0.9 0 0 1 409.00 194.72 L411.60 194.03 Z" fill="#2a2a2a"/>
<path d="M411.90 194.20 L412.60 196.80 A0.9 0.9 0 0 1 410.80 196.80 L411.50 194.20 Z" fill="#2a2a2a"/>
<line x1="355.60" y1="291.50" x2="376.80" y2="291.50" stroke="#111" stroke-width="1.6"/>
<line x1="386.20" y1="291.50" x2="407.20" y2="291.50" stroke="#111" stroke-width="1.6"/>
<path d="M351.20 288.30 Q353.65 289.58 356.10 291.50 Q353.65 293.42 351.20 294.70 Z" fill="#111"/>
<path d="M411.60 288.30 Q409.15 289.58 406.70 291.50 Q409.15 293.42 411.60 294.70 Z" fill="#111"/>
<path d="M381.30 291.50 L380.60 288.90 A0.9 0.9 0 0 1 382.40 288.90 L381.70 291.50 Z" fill="#2a2a2a"/>
<path d="M381.40 291.33 L383.30 289.42 A0.9 0.9 0 0 1 384.20 290.98 L381.60 291.67 Z" fill="#2a2a2a"/>
<path d="M381.60 291.33 L384.20 292.02 A0.9 0.9 0 0 1 383.30 293.58 L381.40 291.67 Z" fill="#2a2a2a"/>
<path d="M381.40 291.67 L378.80 290.98 A0.9 0.9 0 0 1 379.70 289.42 L381.60 291.33 Z" fill="#2a2a2a"/>
<path d="M381.60 291.67 L379.70 293.58 A0.9 0.9 0 0 1 378.80 292.02 L381.40 291.33 Z" fill="#2a2a2a"/>
<path d="M381.70 291.50 L382.40 294.10 A0.9 0.9 0 0 1 380.60 294.10 L381.30 291.50 Z" fill="#2a2a2a"/>
<line x1="355.60" y1="301.30" x2="361.60" y2="301.30" stroke="#111" stroke-width="1.6"/>
<line x1="371.00" y1="301.30" x2="377.10" y2="301.30" stroke="#111" stroke-width="1.6"/>
<path d="M351.20 298.10 Q353.65 299.38 356.10 301.30 Q353.65 303.22 351.20 304.50 Z" fill="#111"/>
<path d="M381.50 298.10 Q379.05 299.38 376.60 301.30 Q379.05 303.22 381.50 304.50 Z" fill="#111"/>
<path d="M366.10 301.30 L365.40 298.70 A0.9 0.9 0 0 1 367.20 298.70 L366.50 301.30 Z" fill="#2a2a2a"/>
<path d="M366.20 301.13 L368.10 299.22 A0.9 0.9 0 0 1 369.00 300.78 L366.40 301.47 Z" fill="#2a2a2a"/>
<path d="M366.40 301.13 L369.00 301.82 A0.9 0.9 0 0 1 368.10 303.38 L366.20 301.47 Z" fill="#2a2a2a"/>
<path d="M366.20 301.47 L363.60 300.78 A0.9 0.9 0 0 1 364.50 299.22 L366.40 301.13 Z" fill="#2a2a2a"/>
<path d="M366.40 301.47 L364.50 303.38 A0.9 0.9 0 0 1 363.60 301.82 L366.20 301.13 Z" fill="#2a2a2a"/>
<path d="M366.50 301.30 L367.20 303.90 A0.9 0.9 0 0 1 365.40 303.90 L366.10 301.30 Z" fill="#2a2a2a"/>
</svg>
</body></html>
